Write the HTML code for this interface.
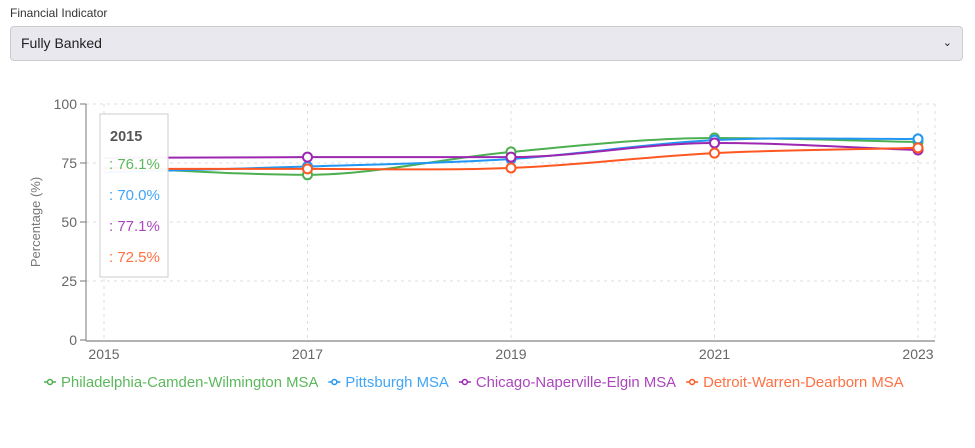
<!DOCTYPE html>
<html><head><meta charset="utf-8"><style>
body{margin:0;width:975px;height:448px;background:#fff;font-family:"Liberation Sans",sans-serif;overflow:hidden;position:relative}
.lbl{position:absolute;left:10px;top:6px;font-size:12px;color:#333}
.sel{position:absolute;left:10px;top:26px;width:953px;height:35px;background:#e9e8ee;border:1px solid #ccc;border-radius:4px;box-sizing:border-box;font-size:14px;color:#222;line-height:33px;padding-left:10px}
.sel span{position:absolute;right:10px;top:0;font-size:11px}
svg{position:absolute;left:0;top:0}
</style></head><body>
<div class="lbl">Financial Indicator</div>
<div class="sel">Fully Banked<span>&#8964;</span></div>
<svg id="c" width="975" height="448"></svg>
<script>
const years=[2015,2017,2019,2021,2023];
const yTicks=[0,25,50,75,100];
const names=["Philadelphia-Camden-Wilmington MSA","Pittsburgh MSA","Chicago-Naperville-Elgin MSA","Detroit-Warren-Dearborn MSA"];
const colors=["#4caf50","#2196f3","#9c27b0","#ff5722"];
const textColors=["#5cb85c","#42a5f5","#ab47bc","#ff7043"];
const philly=[73.2,70.0,79.7,85.6,83.9];
const pitt=[71.0,73.5,76.7,84.7,85.2];
const chicago=[77.1,77.5,77.5,83.5,80.5];
const detroit=[72.5,72.5,72.9,79.2,81.4];
const tipVals=["76.1%","70.0%","77.1%","72.5%"];
const series=[philly,pitt,chicago,detroit];
const svg=document.getElementById('c');const NS='http://www.w3.org/2000/svg';
const X=y=>104+(y-2015)/(2023-2015)*814;
const Y=v=>340-v/100*236;
function mk(t,a,p){const e=document.createElementNS(NS,t);for(const k in a)e.setAttribute(k,a[k]);(p||svg).appendChild(e);return e;}
yTicks.forEach(t=>{
 if(t>0){const g=mk('line',{x1:86,x2:935,y1:Y(t),y2:Y(t),stroke:'#ddd','stroke-dasharray':'3,4'});}
 mk('line',{x1:80,x2:86,y1:Y(t),y2:Y(t),stroke:'#777'});
 const tx=mk('text',{x:77,y:Y(t)+5,'text-anchor':'end','font-size':14,fill:'#666'});tx.textContent=t;
 
});
years.forEach(y=>{
 const g=mk('line',{x1:X(y),x2:X(y),y1:Y(100),y2:340,stroke:'#ddd','stroke-dasharray':'3,4'});
 
 const tx=mk('text',{x:X(y),y:359,'text-anchor':'middle','font-size':14,fill:'#666'});tx.textContent=y;
 
});
mk('line',{x1:935,x2:935,y1:Y(100),y2:340,stroke:'#ddd','stroke-dasharray':'3,4'});
mk('line',{x1:86,x2:86,y1:Y(100),y2:341,stroke:'#777'});
mk('line',{x1:86,x2:935,y1:341,y2:341,stroke:'#999','stroke-width':1.5});
const yt=mk('text',{x:0,y:0,transform:'translate(40,222) rotate(-90)','text-anchor':'middle','font-size':13,fill:'#777'});yt.textContent='Percentage (%)';

function path(pts){
 const n=pts.length,d=[],m=[];
 for(let i=0;i<n-1;i++)d.push((pts[i+1][1]-pts[i][1])/(pts[i+1][0]-pts[i][0]));
 m[0]=d[0];m[n-1]=d[n-2];
 for(let i=1;i<n-1;i++)m[i]=d[i-1]*d[i]<=0?0:(d[i-1]+d[i])/2;
 let s='M'+pts[0][0]+','+pts[0][1];
 for(let i=0;i<n-1;i++){const h=(pts[i+1][0]-pts[i][0])/3;
  s+=` C${pts[i][0]+h},${pts[i][1]+m[i]*h} ${pts[i+1][0]-h},${pts[i+1][1]-m[i+1]*h} ${pts[i+1][0]},${pts[i+1][1]}`;}
 return s;}
series.forEach((s,k)=>{
 const pts=s.map((v,i)=>[X(years[i]),Y(v)]);
 const p=mk('path',{d:path(pts),fill:'none',stroke:colors[k],'stroke-width':2});
 
 pts.forEach((q,i)=>{if(i===0)return;const c=mk('circle',{cx:q[0],cy:q[1],r:4.5,fill:'#fff',stroke:colors[k],'stroke-width':2});
  });
});
const tb=mk('rect',{x:100,y:114,width:68,height:163,fill:'#fff','fill-opacity':0.95,stroke:'#ccc'});

const tt=mk('text',{x:110,y:141,'font-size':14.5,fill:'#555','font-weight':'bold'});tt.textContent='2015';
tipVals.forEach((v,k)=>{const t=mk('text',{x:109,y:169+k*31,'font-size':15,fill:textColors[k]});t.textContent=': '+v;
 });
let lx=44;
names.forEach((n,k)=>{
 mk('line',{x1:lx,x2:lx+12,y1:382,y2:382,stroke:colors[k],'stroke-width':1.5});
 mk('circle',{cx:lx+6,cy:382,r:2.5,fill:'#fff',stroke:colors[k],'stroke-width':1.5});
 const t=mk('text',{x:lx+17,y:387,'font-size':14.9,fill:textColors[k]});t.textContent=n;
 
 lx+=17+t.getComputedTextLength()+10;
});
</script>
</body></html>
